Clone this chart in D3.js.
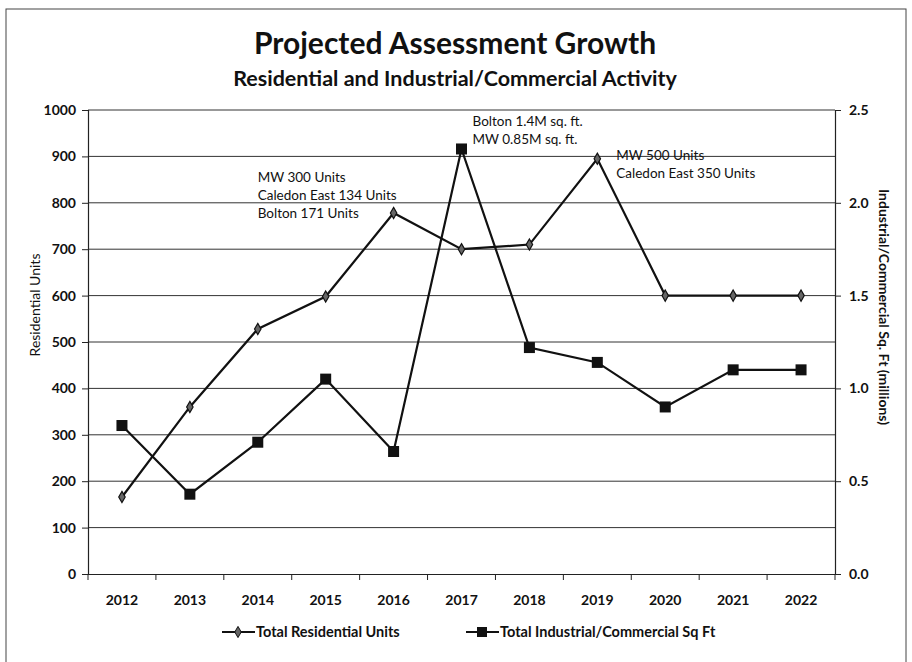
<!DOCTYPE html>
<html><head><meta charset="utf-8">
<script src="https://cdn.jsdelivr.net/npm/d3@7"></script>
<style>body{margin:0;background:#fff}svg{display:block;font-family:Lato,"Open Sans",sans-serif}</style>
</head><body><svg id="c" width="912" height="662"></svg>
<script>
const years = ["2012","2013","2014","2015","2016","2017","2018","2019","2020","2021","2022"];
const residential = [166,360,528,598,778,700,710,895,600,600,600];
const industrial = [0.80,0.43,0.71,1.05,0.66,2.29,1.22,1.14,0.90,1.10,1.10];
const leftTicks = [0,100,200,300,400,500,600,700,800,900,1000];
const rightTicks = [0,0.5,1.0,1.5,2.0,2.5];
const annotations = [
  {year:"2015", lines:["MW 300 Units","Caledon East 134 Units","Bolton 171 Units"]},
  {year:"2017", lines:["Bolton 1.4M sq. ft.","MW 0.85M sq. ft."]},
  {year:"2019", lines:["MW 500 Units","Caledon East 350 Units"]}
];
const seriesNames = ["Total Residential Units","Total Industrial/Commercial Sq Ft"];

const FONT = 'Lato,"Open Sans",sans-serif';
const svg = d3.select("#c");
const L=88, R=835, T=110, B=574;
svg.append("rect").attr("x",6).attr("y",9).attr("width",900).attr("height",660).attr("fill","none").attr("stroke","#444").attr("stroke-width",1);

const x = d3.scaleBand().domain(years).range([L,R]);
const yL = d3.scaleLinear().domain([0,1000]).range([B,T]);
const yR = d3.scaleLinear().domain([0,2.5]).range([B,T]);

// grid
svg.append("g").selectAll("line").data(leftTicks.slice(1)).join("line")
  .attr("x1",L).attr("x2",R).attr("y1",d=>yL(d)).attr("y2",d=>yL(d))
  .attr("stroke","#333").attr("stroke-width",1);

const axL = svg.append("g").attr("transform",`translate(${L},0)`)
  .call(d3.axisLeft(yL).tickValues(leftTicks).tickSize(6).tickPadding(6).tickFormat(d3.format("d")));
const axR = svg.append("g").attr("transform",`translate(${R},0)`)
  .call(d3.axisRight(yR).tickValues(rightTicks).tickSize(6).tickPadding(8).tickFormat(d3.format(".1f")));
const axB = svg.append("g").attr("transform",`translate(0,${B})`)
  .call(d3.axisBottom(x).tickSize(0).tickPadding(21));
svg.append("g").selectAll("line").data(years.concat(["end"])).join("line")
  .attr("x1",(d,i)=>L+i*x.step()).attr("x2",(d,i)=>L+i*x.step())
  .attr("y1",B).attr("y2",B+6).attr("stroke","#222");
[axL,axR,axB].forEach(a=>{
  a.attr("font-family",FONT);
  a.selectAll(".domain").attr("stroke","#222").attr("stroke-width",1.2);
  a.selectAll("line").attr("stroke","#222");
  a.selectAll("text").attr("font-size",14).attr("font-weight","bold").attr("fill","#111");
});

// titles
svg.append("text").attr("x",455).attr("y",54).attr("text-anchor","middle")
  .attr("font-size",30).attr("font-weight","bold").attr("fill","#111").text("Projected Assessment Growth");
svg.append("text").attr("x",455).attr("y",86).attr("text-anchor","middle")
  .attr("font-size",21.5).attr("font-weight","bold").attr("fill","#111").text("Residential and Industrial/Commercial Activity");
svg.append("text").attr("transform",`translate(40,305) rotate(-90)`).attr("text-anchor","middle")
  .attr("font-size",14).attr("fill","#111").text("Residential Units");
svg.append("text").attr("transform",`translate(879,307) rotate(90)`).attr("text-anchor","middle")
  .attr("font-size",14).attr("font-weight","bold").attr("fill","#111").text("Industrial/Commercial Sq. Ft (millions)");

// lines
const cx = d=>x(d)+x.bandwidth()/2;
const lineR = d3.line().x((d,i)=>cx(years[i])).y(d=>yL(d));
const lineI = d3.line().x((d,i)=>cx(years[i])).y(d=>yR(d));
svg.append("path").attr("d",lineR(residential)).attr("fill","none").attr("stroke","#111").attr("stroke-width",2.2);
svg.append("path").attr("d",lineI(industrial)).attr("fill","none").attr("stroke","#111").attr("stroke-width",2.2);
const diamond = d3.symbol().type(d3.symbolDiamond).size(36);
svg.append("g").selectAll("path").data(residential).join("path")
  .attr("d",diamond).attr("transform",(d,i)=>`translate(${cx(years[i])},${yL(d)})`)
  .attr("fill","#666").attr("stroke","#111").attr("stroke-width",1.2);
svg.append("g").selectAll("rect").data(industrial).join("rect")
  .attr("x",(d,i)=>cx(years[i])-5.5).attr("y",d=>yR(d)-5.5).attr("width",11).attr("height",11).attr("fill","#111");

// annotations
const annPos = [{dx:-68,y:182},{dx:11,y:126},{dx:19,y:160}];
annotations.forEach((a,k)=>{
  const t = svg.append("text").attr("font-size",13.5).attr("fill","#111");
  a.lines.forEach((ln,j)=>t.append("tspan").attr("x",cx(a.year)+annPos[k].dx).attr("y",annPos[k].y+j*17.8).text(ln));
});

// legend
const lg = svg.append("g").attr("transform","translate(0,632)");
[[222,"diamond"],[466,"square"]].forEach(([lx,s],i)=>{
  lg.append("line").attr("x1",lx).attr("x2",lx+33).attr("y1",0).attr("y2",0).attr("stroke","#111").attr("stroke-width",2);
  if(s==="diamond") lg.append("path").attr("d",diamond).attr("transform",`translate(${lx+16},0)`).attr("fill","#666").attr("stroke","#111");
  else lg.append("rect").attr("x",lx+11).attr("y",-5).attr("width",10).attr("height",10).attr("fill","#111");
  lg.append("text").attr("x",lx+34).attr("y",5).attr("font-size",14.5).attr("font-weight","bold").attr("fill","#111").text(seriesNames[i]);
});
</script></body></html>
